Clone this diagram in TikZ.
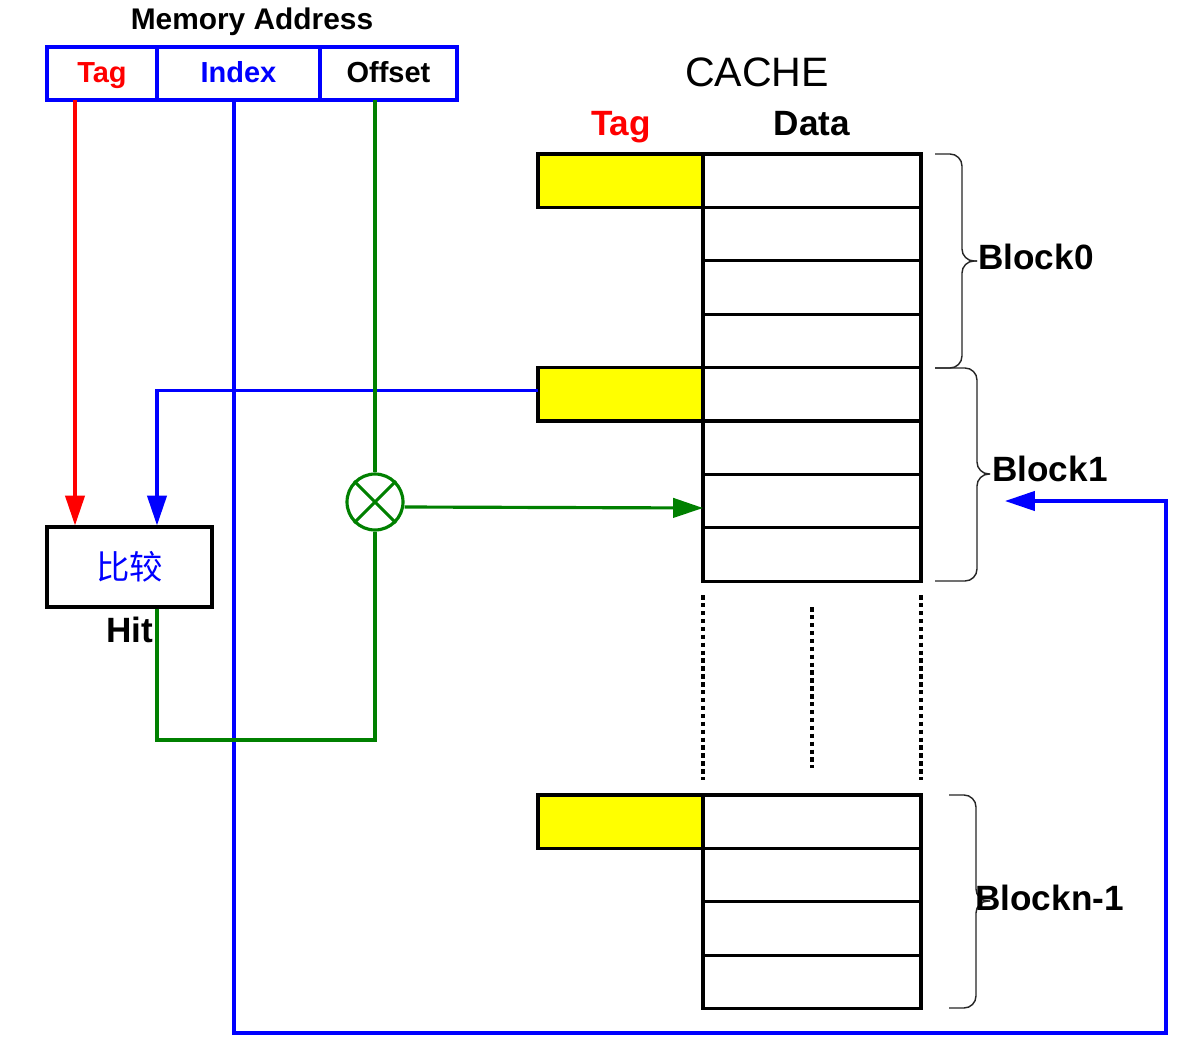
\documentclass[tikz,border=0pt]{standalone}
\usepackage{fontspec}
\setmainfont{Liberation Sans}
\newfontfamily\cjk{Noto Sans CJK SC}
\usepackage{xcolor}
\usetikzlibrary{positioning,arrows.meta}
\definecolor{dg}{RGB}{0,128,0}
\definecolor{yl}{RGB}{255,255,0}

\begin{document}
\begin{tikzpicture}[x=0.02cm,y=-0.02cm,>={Triangle[length=17pt,width=11pt]}]
  \tikzstyle{af}=[draw=blue,line width=1.8pt,outer sep=0pt,minimum height=1.06cm,inner sep=0pt,text height=1em,text depth=0pt,font=\fontsize{16.5}{18}\selectfont\bfseries]
  \tikzstyle{dc}=[draw,line width=1.8pt,outer sep=0pt,minimum width=4.36cm,minimum height=1.068cm,inner sep=0pt]
  \tikzstyle{tc}=[dc,fill=yl,minimum width=3.3cm]
  \tikzstyle{lb}=[inner sep=0pt,text height=1em,text depth=0pt,font=\fontsize{20}{22}\selectfont\bfseries]
  \tikzstyle{ln}=[line width=1.8pt]
  \tikzstyle{br}=[line width=0.8pt,black!85,rounded corners=0.24cm]
  \tikzstyle{dt}=[line width=1.8pt,dash pattern=on 2.5pt off 2pt]
  \fill[white] (0,0) rectangle (1198,1052);
  \useasboundingbox (0,0) rectangle (1198,1052);

  % memory address
  \node[lb,font=\fontsize{17}{19}\selectfont\bfseries] (ma) at (252,21) {Memory Address};
  \node[af,minimum width=2.2cm,text=red] (ta) at (102,73.5) {Tag};
  \node[af,minimum width=3.26cm,text=blue,right=0pt of ta] (ix) {Index};
  \node[af,minimum width=2.74cm,right=0pt of ix] (of) {Offset};

  % cache
  \node[font=\fontsize{23.4}{26}\selectfont] (ch) at (757,72) {CACHE};
  \foreach \i in {0,...,7} \node[dc] (d\i) at (812,180.7+\i*53.4) {};
  \foreach \i in {0,...,3} \node[dc] (e\i) at (812,821.7+\i*53.4) {};
  \node[tc,left=0pt of d0] (t0) {};
  \node[tc,left=0pt of d4] (t1) {};
  \node[tc,left=0pt of e0] (t2) {};
  \node[lb,text=red] (tg) at (621,127) {Tag};
  \node[lb] (da) at (812,127) {Data};
  \draw[dt] ([yshift=-0.28cm]d7.south west) -- ([yshift=0.3cm]e0.north west);
  \draw[dt] ([yshift=-0.52cm]d7.south) -- ([yshift=0.54cm]e0.north);
  \draw[dt] ([yshift=-0.28cm]d7.south east) -- ([yshift=0.3cm]e0.north east);

  % blocks
  \draw[br] (935,154) -| (962,261) -- (977,261);
  \draw[br] (977,261) -- (962,261) |- (935,368);
  \draw[br] (935,368) -| (977,474) -- (990,474);
  \draw[br] (990,474) -- (977,474) |- (935,581);
  \draw[br] (949,795) -| (976,901) -- (990,901);
  \draw[br] (990,901) -- (976,901) |- (949,1008);
  \node[lb,anchor=west] (b0) at (978,261) {Block0};
  \node[lb,anchor=west] (b1) at (992,473) {Block1};
  \node[lb,anchor=west] (bn) at (975,902) {Blockn-1};

  % compare and select
  \node[draw,line width=1.8pt,minimum width=3.3cm,minimum height=1.6cm,text=blue,font=\cjk\fontsize{19}{21}\selectfont] (cmp) at (129.5,567) {比较};
  \node[lb] (hit) at (130,634) {Hit};
  \node[draw=dg,circle,ln,minimum size=1.12cm,inner sep=0pt] (mx) at (375,502) {};
  \draw[dg,ln] (mx.45) -- (mx.225) (mx.135) -- (mx.-45);

  \coordinate (lp) at (1166,1033);
  \coordinate (bt) at (1005,501);
  \coordinate (hb) at (157,740);
  \draw[ln,->,red] ([xshift=-0.54cm]ta.south) -- ([xshift=-0.54cm]ta.south |- cmp.north);
  \draw[ln,->,blue] ([yshift=0.08cm]t1.west) -| ([xshift=0.55cm]cmp.north);
  \draw[ln,->,blue] ([xshift=-0.09cm]ix.south) |- (lp) |- (bt);
  \draw[ln,dg] (mx.north |- of.south) -- (mx.north);
  \draw[ln,->,dg] ([yshift=-0.1cm]mx.east) -- ([yshift=-0.12cm]mx.east -| d6.west);
  \draw[ln,dg] (mx.south) |- (hb) -- (hb |- cmp.south);
\end{tikzpicture}
\end{document}
